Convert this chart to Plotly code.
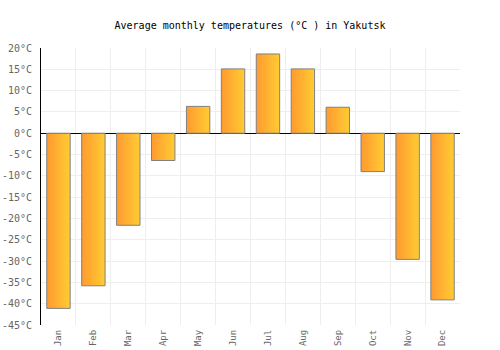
import plotly.graph_objects as go

months = ["Jan", "Feb", "Mar", "Apr", "May", "Jun", "Jul", "Aug", "Sep", "Oct", "Nov", "Dec"]
temps = [-41.1, -35.8, -21.6, -6.4, 6.3, 15.1, 18.6, 15.1, 6.1, -9.0, -29.6, -39.1]
yticks = list(range(-45, 25, 5))
ylabels = [f"{v}°C" for v in yticks]

FONT = "DejaVu Sans Mono"
half = 0.335

fig = go.Figure()
for i, (m, t) in enumerate(zip(months, temps)):
    xs = [i - half, i + half, i + half, i - half, i - half]
    ys = [0, 0, t, t, 0]
    fig.add_trace(go.Scatter(
        x=xs, y=ys, mode="lines", fill="toself",
        fillgradient=dict(type="horizontal", colorscale=[[0, "#FF9A30"], [1, "#FFCC33"]]),
        line=dict(color="#808080", width=1),
        hoverinfo="text", text=f"{m}: {t}°C", showlegend=False,
    ))

fig.update_layout(
    width=500, height=350,
    margin=dict(l=41, r=40, t=48, b=25),
    paper_bgcolor="white", plot_bgcolor="white",
    title=dict(text="Average monthly temperatures (°C ) in Yakutsk", x=0.5, xanchor="center",
               y=1 - 25 / 350, yanchor="middle", yref="container",
               font=dict(family=FONT, size=10, color="#000")),
    font=dict(family=FONT, size=10, color="#666"),
)
fig.update_xaxes(
    range=[-0.5, 11.5], tickvals=list(range(12)), ticktext=months, tickangle=-90,
    showgrid=False, zeroline=False, showline=False, automargin=False,
    ticks="", ticklabelstandoff=2,
    minor=dict(tickvals=[i - 0.5 for i in range(13)], showgrid=True, gridcolor="#eeeeee", gridwidth=1),
    tickfont=dict(family=FONT, size=9, color="#666"),
)
fig.update_yaxes(
    range=[-45, 20], tickvals=yticks, ticktext=ylabels,
    showgrid=True, gridcolor="#eeeeee", gridwidth=1,
    zeroline=True, zerolinecolor="#000", zerolinewidth=1,
    showline=True, linecolor="#000", linewidth=1, automargin=False,
    ticks="outside", ticklen=6, tickcolor="rgba(0,0,0,0)",
    tickfont=dict(family=FONT, size=10, color="#666"),
)

fig.write_html("out.html")
